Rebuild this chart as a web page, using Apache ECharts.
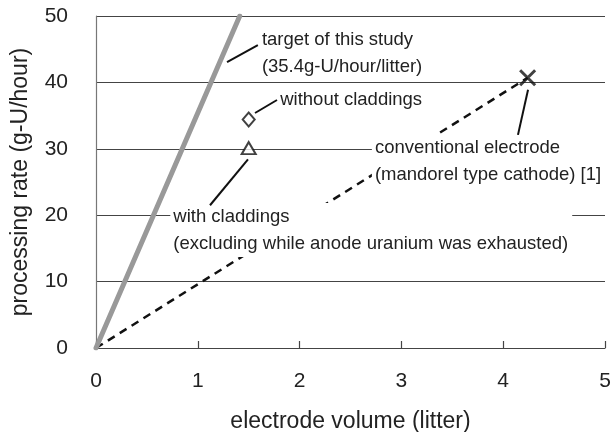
<!DOCTYPE html>
<html>
<head>
<meta charset="utf-8">
<title>processing rate vs electrode volume</title>
<script src="https://cdn.jsdelivr.net/npm/echarts@6/dist/echarts.min.js"></script>
<style>
  html, body { margin: 0; padding: 0; background: #fff; }
  #chart { width: 613px; height: 432px; }
</style>
</head>
<body>
<div id="chart"></div>
<script>
// values
var targetLine = [[0, 0], [1.412, 50]];          // 35.4 g-U/hour/litter
var conventionalLine = [[0, 0], [4.24, 40.7]];
var withoutCladdings = [[1.5, 34.4]];
var withCladdings = [[1.5, 30.1]];
var conventionalPoint = [[4.24, 40.7]];

var xTicks = [0, 1, 2, 3, 4, 5];
var yTicks = [0, 10, 20, 30, 40, 50];

var xTitle = 'electrode volume (litter)';
var yTitle = 'processing rate (g-U/hour)';

var targetText = ['target of this study', '(35.4g-U/hour/litter)'];
var withoutText = ['without claddings'];
var withText = ['with claddings', '(excluding while anode uranium was exhausted)'];
var convText = ['conventional electrode', '(mandorel type cathode) [1]'];

var FONT = '"Liberation Sans", Arial, Helvetica, sans-serif';

var chart = echarts.init(document.getElementById('chart'), null, { renderer: 'canvas' });

chart.setOption({
    animation: false,
    backgroundColor: '#fff',
    grid: { left: 96, right: 8, top: 16, bottom: 84, outerBoundsMode: 'none' },
    xAxis: {
        type: 'value',
        min: xTicks[0], max: xTicks[xTicks.length - 1], interval: 1,
        name: xTitle, nameLocation: 'middle', nameGap: 62,
        nameTextStyle: { fontFamily: FONT, fontSize: 23, color: '#222' },
        axisLine: { show: true, lineStyle: { color: '#444', width: 1.2 } },
        axisTick: { show: true, inside: true, length: 7, lineStyle: { color: '#444', width: 1.2 } },
        axisLabel: { fontFamily: FONT, fontSize: 21, color: '#222', margin: 23 },
        splitLine: { show: false }
    },
    yAxis: {
        type: 'value',
        min: yTicks[0], max: yTicks[yTicks.length - 1], interval: 10,
        name: yTitle, nameLocation: 'middle', nameGap: 64, nameRotate: 90,
        nameTextStyle: { fontFamily: FONT, fontSize: 23, color: '#222' },
        axisLine: { show: true, lineStyle: { color: '#777', width: 1.2 } },
        axisTick: { show: false },
        axisLabel: { fontFamily: FONT, fontSize: 21, color: '#222', margin: 28 },
        splitLine: { show: true, lineStyle: { color: '#444', width: 1.2 } }
    },
    series: [
        {
            type: 'line', data: targetLine, showSymbol: false, z: 3,
            lineStyle: { color: '#999', width: 5, cap: 'round' }
        },
        {
            type: 'line', data: conventionalLine, showSymbol: false, z: 2,
            lineStyle: { color: '#111', width: 2.5, type: [8, 6] }
        },
        {
            type: 'scatter', data: withoutCladdings, symbol: 'diamond', symbolSize: [12, 14], z: 5,
            itemStyle: { color: '#fff', borderColor: '#111', borderWidth: 2 }
        },
        {
            type: 'scatter', data: withCladdings, symbol: 'triangle', symbolSize: [14, 12], z: 5,
            itemStyle: { color: '#fff', borderColor: '#111', borderWidth: 2 }
        },
        {
            type: 'scatter', data: conventionalPoint, symbol: 'path://M0,0L10,10M10,0L0,10', symbolSize: 15, z: 5,
            itemStyle: { color: 'transparent', borderColor: '#111', borderWidth: 3 }
        }
    ]
});

// annotations: text blocks with white backing (they mask grid and dashed line) plus leader lines
function px(p) { return chart.convertToPixel({ gridIndex: 0 }, p); }

function textBlock(lines, at) {
    var p = px(at);
    return {
        type: 'text', z: 50, x: p[0], y: p[1],
        style: {
            text: lines.join('\n'), font: '18.5px ' + FONT, fill: '#222',
            lineHeight: 27, align: 'left', verticalAlign: 'middle',
            backgroundColor: '#fff', padding: [0, 4, 0, 3]
        }
    };
}

function leader(a, b) {
    var p = px(a), q = px(b);
    return {
        type: 'line', z: 60,
        shape: { x1: p[0], y1: p[1], x2: q[0], y2: q[1] },
        style: { stroke: '#111', lineWidth: 2 }
    };
}

chart.setOption({
    graphic: [
        textBlock(targetText, [1.60, 44.35]),
        leader([1.287, 43.07], [1.59, 45.63]),
        textBlock(withoutText, [1.78, 37.35]),
        leader([1.562, 35.39], [1.778, 37.35]),
        textBlock(withText, [0.73, 17.77]),
        leader([1.493, 28.4], [1.12, 21.5]),
        textBlock(convText, [2.71, 28.16]),
        leader([4.244, 38.9], [4.145, 32.1])
    ]
});
</script>
</body>
</html>
